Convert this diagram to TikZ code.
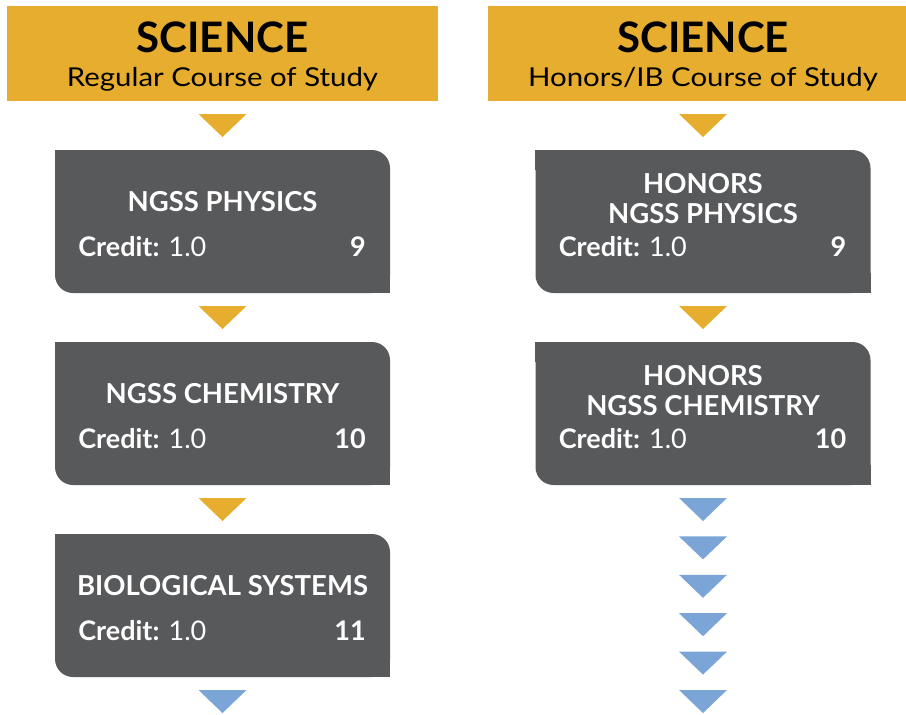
\documentclass[tikz,border=0pt]{standalone}
\usepackage{fontspec}
\setmainfont{Lato}
\newfontfamily\widefont[FakeStretch=1.13]{Lato}
\usetikzlibrary{positioning}

\definecolor{gold}{HTML}{E6AD2F}
\definecolor{slate}{HTML}{58595B}
\definecolor{sky}{HTML}{7BA4D7}

\tikzset{
  head/.style={fill=gold, minimum width=431pt, minimum height=95pt, inner sep=0pt},
  headtitle/.style={anchor=base, font=\bfseries\fontsize{42}{42}\selectfont},
  headsub/.style={anchor=base, font=\widefont\fontsize{26}{26}\selectfont},
  course/.style={fill=slate, rounded corners=18pt, minimum width=335pt, minimum height=143pt, inner sep=0pt},
  ctitle/.style={anchor=base, text=white, align=center, font=\bfseries\fontsize{27.5}{30}\selectfont},
  credit/.style={anchor=base west, text=white, font=\fontsize{27}{27}\selectfont},
  grade/.style={anchor=base east, text=white, font=\bfseries\fontsize{27}{27}\selectfont},
}

\newcommand\downtri[2]{\fill[#1] (#2) ++(-24,0) -- ++(48,0) -- ++(-24,23) -- cycle;}

\begin{document}
\begin{tikzpicture}[x=1pt,y=-1pt]
	\useasboundingbox (0,0) rectangle (906,715);
	% headers
	\node[head] (hreg) at (222.5,53.5) {};
	\node[headtitle] (hregT) at (222.5,52) {SCIENCE};
	\node[headsub] (hregS) at (222.5,86) {Regular Course of Study};
	\node[head] (hhon) at (703,53.5) {};
	\node[headtitle] (hhonT) at (703,52) {SCIENCE};
	\node[headsub] (hhonS) at (703,86) {Honors/IB Course of Study};
	% regular column
	\node[course] (phys) at (222.5,221.5) {};
	\node[course] (chem) at (222.5,413.5) {};
	\node[course] (bio) at (222.5,605.5) {};
	% honors column
	\node[course] (hphys) at (703,221.5) {};
	\node[course] (hchem) at (703,413.5) {};
	% square corners top left / bottom right
	\foreach \b in {phys,chem,bio,hphys,hchem}{
		\fill[slate] (\b.north west) rectangle ++(20,20);
		\fill[slate] (\b.south east) rectangle ++(-20,-20);
	}
	% texts
	\node[ctitle] (physT) at (222.5,211) {NGSS PHYSICS};
	\node[ctitle] (chemT) at (222.5,403) {NGSS CHEMISTRY};
	\node[ctitle] (bioT) at (222.5,595) {BIOLOGICAL SYSTEMS};
	\node[ctitle] (hphysT) at (703,223) {HONORS\\NGSS PHYSICS};
	\node[ctitle] (hchemT) at (703,415) {HONORS\\NGSS CHEMISTRY};
	\foreach \b/\g in {phys/9,chem/10,bio/11,hphys/9,hchem/10}{
		\node[credit] (\b C) at ([xshift=20pt,yshift=-107pt]\b.north west) {\textbf{Credit:} 1.0};
		\node[grade] (\b G) at ([xshift=-21pt,yshift=-107pt]\b.north east) {\g};
	}
	% arrows
	\coordinate (a1) at (222.5,114);
	\coordinate (a2) at (222.5,306);
	\coordinate (a3) at (222.5,498);
	\coordinate (a4) at (222.5,690);
	\coordinate (b1) at (703,114);
	\coordinate (b2) at (703,306);
	\downtri{gold}{a1}
	\downtri{gold}{a2}
	\downtri{gold}{a3}
	\downtri{sky}{a4}
	\downtri{gold}{b1}
	\downtri{gold}{b2}
	\foreach \k in {0,...,5}{
		\coordinate (c\k) at (703,498+38.4*\k);
		\downtri{sky}{c\k}
	}
\end{tikzpicture}
\end{document}
